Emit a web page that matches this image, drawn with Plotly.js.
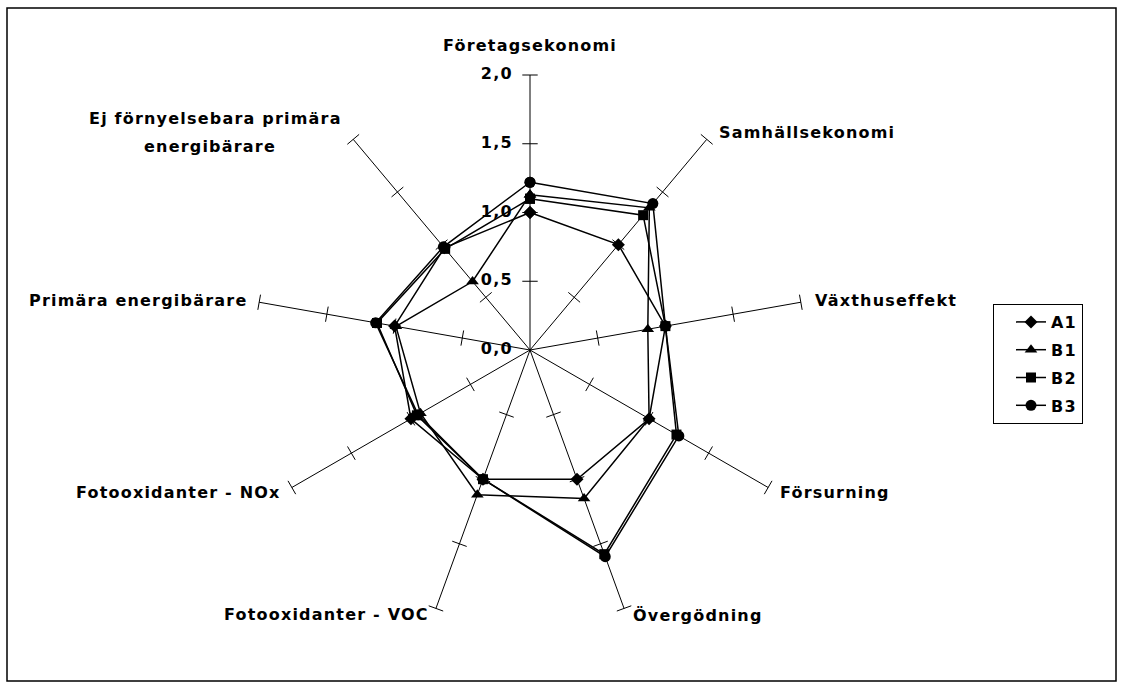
<!DOCTYPE html>
<html>
<head>
<meta charset="utf-8">
<script src="https://cdn.plot.ly/plotly-3.0.1.min.js"></script>
<style>
html,body{margin:0;padding:0;background:#fff;}
#chart{width:1122px;height:687px;}
.annotation-text, .legendtext, .textpoint text { letter-spacing: 1.2px; }
</style>
</head>
<body>
<div id="chart"></div>
<script>
// ---- data ----
const categories = [
  "Företagsekonomi",
  "Samhällsekonomi",
  "Växthuseffekt",
  "Försurning",
  "Övergödning",
  "Fotooxidanter - VOC",
  "Fotooxidanter - NOx",
  "Primära energibärare",
  "Ej förnyelsebara primära energibärare"
];
const seriesNames = ["A1", "B1", "B2", "B3"];
const A1 = [1.00, 1.00, 1.00, 1.00, 1.00, 1.00, 1.00, 1.00, 0.97];
const B1 = [1.13, 1.35, 0.87, 1.00, 1.15, 1.12, 0.92, 0.99, 0.65];
const B2 = [1.10, 1.28, 1.00, 1.23, 1.58, 1.00, 0.95, 1.13, 0.96];
const B3 = [1.22, 1.39, 1.00, 1.25, 1.60, 1.00, 0.94, 1.14, 0.98];
const tickValues = [0.0, 0.5, 1.0, 1.5, 2.0];
const tickLabels = ["0,0", "0,5", "1,0", "1,5", "2,0"];

// ---- styling ----
const W = 1122, H = 687;
const FONT = "'DejaVu Sans', Verdana, sans-serif";
const FS = 16;
const symbols = {A1: "diamond", B1: "triangle-up", B2: "square", B3: "circle"};
const sizes = {A1: 10, B1: 11, B2: 10, B3: 11};
const seriesData = {A1, B1, B2, B3};

const traces = [];

// tick marks on every spoke
const tickR = [], tickT = [], tickA = [];
categories.forEach((c, i) => {
  tickValues.forEach(v => { if (v > 0) { tickR.push(v); tickT.push(c); tickA.push(i * 360 / categories.length); } });
});
traces.push({
  type: "scatterpolar", mode: "markers", r: tickR, theta: tickT,
  marker: {symbol: "line-ew", size: 11, angle: tickA, color: "#000", line: {color: "#000", width: 1}},
  showlegend: false, hoverinfo: "skip"
});

// value-axis labels along the first spoke
traces.push({
  type: "scatterpolar", mode: "markers+text", r: tickValues, theta: tickValues.map(() => categories[0]),
  text: tickLabels, textposition: "middle left",
  textfont: {family: FONT, size: FS, color: "#000", weight: "bold"},
  marker: {size: 26, color: "rgba(0,0,0,0)"},
  showlegend: false, hoverinfo: "skip", cliponaxis: false
});

seriesNames.forEach((name, k) => {
  const vals = seriesData[name];
  traces.push({
    type: "scatterpolar", mode: "lines+markers", name: name,
    r: vals.concat([vals[0]]), theta: categories.concat([categories[0]]),
    line: {color: "#000", width: 1.5},
    marker: {symbol: symbols[name], size: sizes[name], color: "#000"},
    legendgroup: "g" + k
  });
});

function px(x) { return x / W; }
function py(y) { return 1 - y / H; }
const lab = (text, x, y, anchor) => ({
  text: "<b>" + text + "</b>", x: px(x), y: py(y), xref: "paper", yref: "paper",
  xanchor: anchor, yanchor: "middle", showarrow: false,
  font: {family: FONT, size: FS, color: "#000", weight: "bold"}, align: "center"
});

const annotations = [
  lab(categories[0], 530, 45, "center"),
  lab(categories[1], 717, 132, "left"),
  lab(categories[2], 813, 300, "left"),
  lab(categories[3], 778, 492, "left"),
  lab(categories[4], 631, 615, "left"),
  lab(categories[5], 431, 614, "right"),
  lab(categories[6], 283, 492, "right"),
  lab(categories[7], 249, 300, "right"),
  lab("Ej förnyelsebara primära", 215, 118, "center"),
  lab("energibärare", 210, 147, "center")
];

const cx = 530, cy = 350, R = 275;
const layout = {
  width: W, height: H,
  margin: {l: 0, r: 0, t: 0, b: 0},
  paper_bgcolor: "#fff",
  font: {family: FONT, color: "#000"},
  polar: {
    domain: {x: [px(cx - R), px(cx + R)], y: [py(cy + R), py(cy - R)]},
    bgcolor: "rgba(0,0,0,0)",
    radialaxis: {
      range: [0, 2], dtick: 0.5, angle: 90,
      showgrid: false, showline: false, ticks: "", showticklabels: false
    },
    angularaxis: {
      direction: "clockwise", rotation: 90, type: "category",
      showgrid: true, gridcolor: "#000", gridwidth: 1,
      showline: false, showticklabels: false, ticks: ""
    }
  },
  showlegend: true,
  legend: {
    x: px(993), y: py(304), xanchor: "left", yanchor: "top",
    bordercolor: "#000", borderwidth: 1, bgcolor: "#fff",
    font: {family: FONT, size: FS, color: "#000", weight: "bold"},
    traceorder: "grouped", tracegroupgap: 4, indentation: 17, entrywidth: 85
  },
  annotations: annotations,
  shapes: [{type: "rect", xref: "paper", yref: "paper", x0: px(7), x1: px(1116), y0: py(681), y1: py(8),
            line: {color: "#000", width: 1.5}}]
};

Plotly.newPlot("chart", traces, layout, {displayModeBar: false, staticPlot: true});
</script>
</body>
</html>
